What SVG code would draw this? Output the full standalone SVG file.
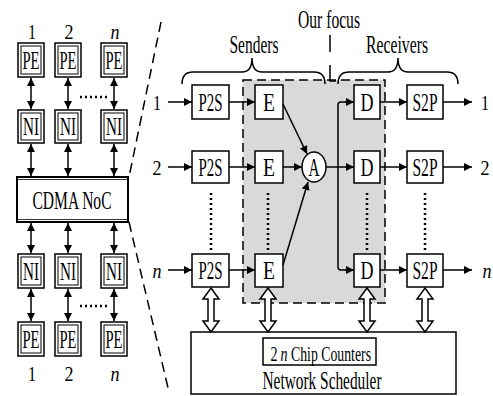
<svg xmlns="http://www.w3.org/2000/svg" width="493" height="396" viewBox="0 0 493 396">
<style>
.bx{fill:#fff;stroke:#000;stroke-width:1.5}
.in{fill:none;stroke:#000;stroke-width:1}
.t{font-family:"Liberation Serif","Times New Roman",serif;font-size:26px;fill:#000;text-anchor:middle}
.d{font-family:"Liberation Serif","Times New Roman",serif;font-size:22px;fill:#000;text-anchor:middle}
.i{font-style:italic}
.ln{fill:none;stroke:#000;stroke-width:1.5}
.dot{fill:none;stroke:#000;stroke-width:2.5;stroke-dasharray:2 3}
.dash{fill:none;stroke:#000;stroke-width:1.5;stroke-dasharray:10 6}
.bi{fill:none;stroke:#000;stroke-width:1.5;marker-start:url(#ah);marker-end:url(#ah)}
.ar{fill:none;stroke:#000;stroke-width:1.5;marker-end:url(#ah)}
.ha{fill:#fff;stroke:#000;stroke-width:1.5}
</style>
<defs>
<marker id="ah" markerUnits="userSpaceOnUse" markerWidth="9" markerHeight="8" refX="8" refY="4" orient="auto-start-reverse">
<path d="M0,0 L8,4 L0,8 Z" fill="#000"/>
</marker>
</defs>

<!-- background gray focus box -->
<rect x="243" y="80" width="142" height="223" fill="#d9d9d9" stroke="#000" stroke-width="1.5" stroke-dasharray="9 5"/>

<!-- left column labels -->
<text class="d" x="32" y="39" textLength="8" lengthAdjust="spacingAndGlyphs">1</text>
<text class="d" x="69" y="39" textLength="9" lengthAdjust="spacingAndGlyphs">2</text>
<text class="d i" x="115" y="39" textLength="9" lengthAdjust="spacingAndGlyphs">n</text>
<text class="d" x="32" y="381" textLength="8" lengthAdjust="spacingAndGlyphs">1</text>
<text class="d" x="69" y="381" textLength="9" lengthAdjust="spacingAndGlyphs">2</text>
<text class="d i" x="115" y="381" textLength="9" lengthAdjust="spacingAndGlyphs">n</text>

<g id="pe1t"><rect class="bx" x="18" y="43" width="26" height="34"/><rect class="in" x="21" y="46" width="20" height="28"/><text class="t" x="31" y="69" textLength="17" lengthAdjust="spacingAndGlyphs">PE</text></g>
<g id="pe2t"><rect class="bx" x="55" y="43" width="26" height="34"/><rect class="in" x="58" y="46" width="20" height="28"/><text class="t" x="68" y="69" textLength="17" lengthAdjust="spacingAndGlyphs">PE</text></g>
<g id="pent"><rect class="bx" x="101" y="43" width="26" height="34"/><rect class="in" x="104" y="46" width="20" height="28"/><text class="t" x="114" y="69" textLength="17" lengthAdjust="spacingAndGlyphs">PE</text></g>
<g id="ni1t"><rect class="bx" x="18" y="110" width="26" height="33"/><rect class="in" x="21" y="113" width="20" height="27"/><text class="t" x="31" y="135" textLength="16" lengthAdjust="spacingAndGlyphs">NI</text></g>
<g id="ni2t"><rect class="bx" x="55" y="110" width="26" height="33"/><rect class="in" x="58" y="113" width="20" height="27"/><text class="t" x="68" y="135" textLength="16" lengthAdjust="spacingAndGlyphs">NI</text></g>
<g id="nint"><rect class="bx" x="101" y="110" width="26" height="33"/><rect class="in" x="104" y="113" width="20" height="27"/><text class="t" x="114" y="135" textLength="16" lengthAdjust="spacingAndGlyphs">NI</text></g>

<g id="cdma"><rect x="17" y="177" width="111" height="45" fill="#fff" stroke="#000" stroke-width="2"/><line x1="17" y1="179.5" x2="128" y2="179.5" stroke="#000" stroke-width="0.8"/><line x1="17" y1="219.5" x2="128" y2="219.5" stroke="#000" stroke-width="0.8"/><text class="t" x="72" y="209" textLength="79" lengthAdjust="spacingAndGlyphs">CDMA NoC</text></g>

<g id="ni1b"><rect class="bx" x="18" y="254" width="26" height="34"/><rect class="in" x="21" y="257" width="20" height="28"/><text class="t" x="31" y="280" textLength="16" lengthAdjust="spacingAndGlyphs">NI</text></g>
<g id="ni2b"><rect class="bx" x="55" y="254" width="26" height="34"/><rect class="in" x="58" y="257" width="20" height="28"/><text class="t" x="68" y="280" textLength="16" lengthAdjust="spacingAndGlyphs">NI</text></g>
<g id="ninb"><rect class="bx" x="101" y="254" width="26" height="34"/><rect class="in" x="104" y="257" width="20" height="28"/><text class="t" x="114" y="280" textLength="16" lengthAdjust="spacingAndGlyphs">NI</text></g>
<g id="pe1b"><rect class="bx" x="18" y="322" width="26" height="34"/><rect class="in" x="21" y="325" width="20" height="28"/><text class="t" x="31" y="348" textLength="17" lengthAdjust="spacingAndGlyphs">PE</text></g>
<g id="pe2b"><rect class="bx" x="55" y="322" width="26" height="34"/><rect class="in" x="58" y="325" width="20" height="28"/><text class="t" x="68" y="348" textLength="17" lengthAdjust="spacingAndGlyphs">PE</text></g>
<g id="penb"><rect class="bx" x="101" y="322" width="26" height="34"/><rect class="in" x="104" y="325" width="20" height="28"/><text class="t" x="114" y="348" textLength="17" lengthAdjust="spacingAndGlyphs">PE</text></g>

<!-- right side boxes -->
<g id="p2s1"><rect class="bx" x="192" y="85" width="37" height="34"/><text class="t" x="210.5" y="111" textLength="24" lengthAdjust="spacingAndGlyphs">P2S</text></g>
<g id="p2s2"><rect class="bx" x="192" y="151" width="37" height="32"/><text class="t" x="210.5" y="176" textLength="24" lengthAdjust="spacingAndGlyphs">P2S</text></g>
<g id="p2sn"><rect class="bx" x="192" y="254" width="37" height="33"/><text class="t" x="210.5" y="279" textLength="24" lengthAdjust="spacingAndGlyphs">P2S</text></g>
<g id="e1"><rect class="bx" x="255" y="85" width="28" height="34"/><text class="t" x="269" y="111" textLength="12" lengthAdjust="spacingAndGlyphs">E</text></g>
<g id="e2"><rect class="bx" x="255" y="151" width="28" height="32"/><text class="t" x="269" y="176" textLength="12" lengthAdjust="spacingAndGlyphs">E</text></g>
<g id="en"><rect class="bx" x="255" y="254" width="28" height="33"/><text class="t" x="269" y="279" textLength="12" lengthAdjust="spacingAndGlyphs">E</text></g>
<g id="a"><ellipse class="bx" cx="314" cy="167" rx="12" ry="15"/><text class="t" x="314" y="176" textLength="11" lengthAdjust="spacingAndGlyphs">A</text></g>
<g id="d1"><rect class="bx" x="354" y="85" width="26" height="34"/><text class="t" x="367" y="111" textLength="13" lengthAdjust="spacingAndGlyphs">D</text></g>
<g id="d2"><rect class="bx" x="354" y="151" width="26" height="32"/><text class="t" x="367" y="176" textLength="13" lengthAdjust="spacingAndGlyphs">D</text></g>
<g id="dn"><rect class="bx" x="354" y="254" width="26" height="33"/><text class="t" x="367" y="279" textLength="13" lengthAdjust="spacingAndGlyphs">D</text></g>
<g id="s2p1"><rect class="bx" x="407" y="85" width="36" height="34"/><text class="t" x="425" y="111" textLength="25" lengthAdjust="spacingAndGlyphs">S2P</text></g>
<g id="s2p2"><rect class="bx" x="407" y="151" width="36" height="32"/><text class="t" x="425" y="176" textLength="25" lengthAdjust="spacingAndGlyphs">S2P</text></g>
<g id="s2pn"><rect class="bx" x="407" y="254" width="36" height="33"/><text class="t" x="425" y="279" textLength="25" lengthAdjust="spacingAndGlyphs">S2P</text></g>

<g id="sched"><rect class="bx" x="191" y="332" width="265" height="62"/><text class="t" x="322" y="389" style="font-size:26px" textLength="119" lengthAdjust="spacingAndGlyphs">Network Scheduler</text></g>
<g id="chip"><rect class="bx" x="263" y="338" width="113" height="27"/>
<text class="d" x="274" y="361" textLength="7" lengthAdjust="spacingAndGlyphs">2</text>
<text class="d i" x="284" y="361" textLength="7" lengthAdjust="spacingAndGlyphs">n</text>
<text class="d" x="331" y="361" textLength="80" lengthAdjust="spacingAndGlyphs">Chip Counters</text></g>

<!-- labels -->
<g id="labels">
<text class="d" x="157" y="110" textLength="8" lengthAdjust="spacingAndGlyphs">1</text>
<text class="d" x="157" y="175" textLength="9" lengthAdjust="spacingAndGlyphs">2</text>
<text class="d i" x="157" y="278" textLength="9" lengthAdjust="spacingAndGlyphs">n</text>
<text class="d" x="485" y="110" textLength="8" lengthAdjust="spacingAndGlyphs">1</text>
<text class="d" x="485" y="175" textLength="9" lengthAdjust="spacingAndGlyphs">2</text>
<text class="d i" x="487" y="278" textLength="9" lengthAdjust="spacingAndGlyphs">n</text>
<text class="t" x="254" y="53" style="font-size:25px" textLength="49" lengthAdjust="spacingAndGlyphs">Senders</text>
<text class="t" x="397" y="53" style="font-size:25px" textLength="62" lengthAdjust="spacingAndGlyphs">Receivers</text>
<text class="t" x="329" y="28" style="font-size:25px" textLength="62" lengthAdjust="spacingAndGlyphs">Our focus</text>
</g>

<g id="connectors">
<!-- left bidirectional -->
<line class="bi" x1="31" y1="78" x2="31" y2="109"/>
<line class="bi" x1="68" y1="78" x2="68" y2="109"/>
<line class="bi" x1="114" y1="78" x2="114" y2="109"/>
<line class="bi" x1="31" y1="144" x2="31" y2="176"/>
<line class="bi" x1="68" y1="144" x2="68" y2="176"/>
<line class="bi" x1="114" y1="144" x2="114" y2="176"/>
<line class="bi" x1="31" y1="223" x2="31" y2="253"/>
<line class="bi" x1="68" y1="223" x2="68" y2="253"/>
<line class="bi" x1="114" y1="223" x2="114" y2="253"/>
<line class="bi" x1="31" y1="289" x2="31" y2="321"/>
<line class="bi" x1="68" y1="289" x2="68" y2="321"/>
<line class="bi" x1="114" y1="289" x2="114" y2="321"/>
<line class="dot" x1="80" y1="97" x2="108" y2="97"/>
<line class="dot" x1="80" y1="306" x2="108" y2="306"/>
<!-- zoom lines -->
<line class="dash" x1="161" y1="22" x2="129" y2="177"/>
<line class="dash" x1="129" y1="222" x2="169" y2="392"/>
<!-- braces -->
<path class="ln" d="M182,84 Q182,72 193,72 L242,72 Q252,72 252,58 Q252,72 262,72 L314,72 Q325,72 325,84"/>
<path class="ln" d="M338,84 Q338,72 349,72 L388,72 Q398,72 398,58 Q398,72 408,72 L447,72 Q458,72 458,84"/>
<line class="ln" x1="330" y1="35" x2="330" y2="52"/>
<polyline class="ln" points="330,65 330,81 336,81"/>
<!-- rows -->
<line class="ar" x1="168" y1="102" x2="192" y2="102"/>
<line class="ar" x1="168" y1="167" x2="192" y2="167"/>
<line class="ar" x1="168" y1="270" x2="192" y2="270"/>
<line class="ar" x1="229" y1="102" x2="255" y2="102"/>
<line class="ar" x1="229" y1="167" x2="255" y2="167"/>
<line class="ar" x1="229" y1="270" x2="255" y2="270"/>
<line class="ar" x1="283" y1="104" x2="307" y2="154"/>
<line class="ar" x1="283" y1="167" x2="302" y2="167"/>
<line class="ar" x1="283" y1="265" x2="308" y2="182"/>
<line class="ar" x1="326" y1="167" x2="354" y2="167"/>
<path class="ln" d="M346,102 L341,102 Q338,102 338,105 L338,267 Q338,270 341,270 L346,270"/>
<line class="ar" x1="345" y1="102" x2="354" y2="102"/>
<line class="ar" x1="345" y1="270" x2="354" y2="270"/>
<line class="ar" x1="380" y1="102" x2="407" y2="102"/>
<line class="ar" x1="380" y1="167" x2="407" y2="167"/>
<line class="ar" x1="380" y1="270" x2="407" y2="270"/>
<line class="ar" x1="443" y1="102" x2="472" y2="102"/>
<line class="ar" x1="443" y1="167" x2="472" y2="167"/>
<line class="ar" x1="443" y1="270" x2="472" y2="270"/>
<!-- vertical dots -->
<line class="dot" x1="211" y1="193" x2="211" y2="250"/>
<line class="dot" x1="268" y1="193" x2="268" y2="250"/>
<line class="dot" x1="367" y1="193" x2="367" y2="250"/>
<line class="dot" x1="425" y1="193" x2="425" y2="250"/>
<!-- hollow double arrows -->
<path class="ha" d="M211,288 L219,299 L214,299 L214,321 L219,321 L211,332 L203,321 L208,321 L208,299 L203,299 Z"/>
<path class="ha" d="M268,288 L276,299 L271,299 L271,321 L276,321 L268,332 L260,321 L265,321 L265,299 L260,299 Z"/>
<path class="ha" d="M367,288 L375,299 L370,299 L370,321 L375,321 L367,332 L359,321 L364,321 L364,299 L359,299 Z"/>
<path class="ha" d="M425,288 L433,299 L428,299 L428,321 L433,321 L425,332 L417,321 L422,321 L422,299 L417,299 Z"/>
</g>
</svg>
